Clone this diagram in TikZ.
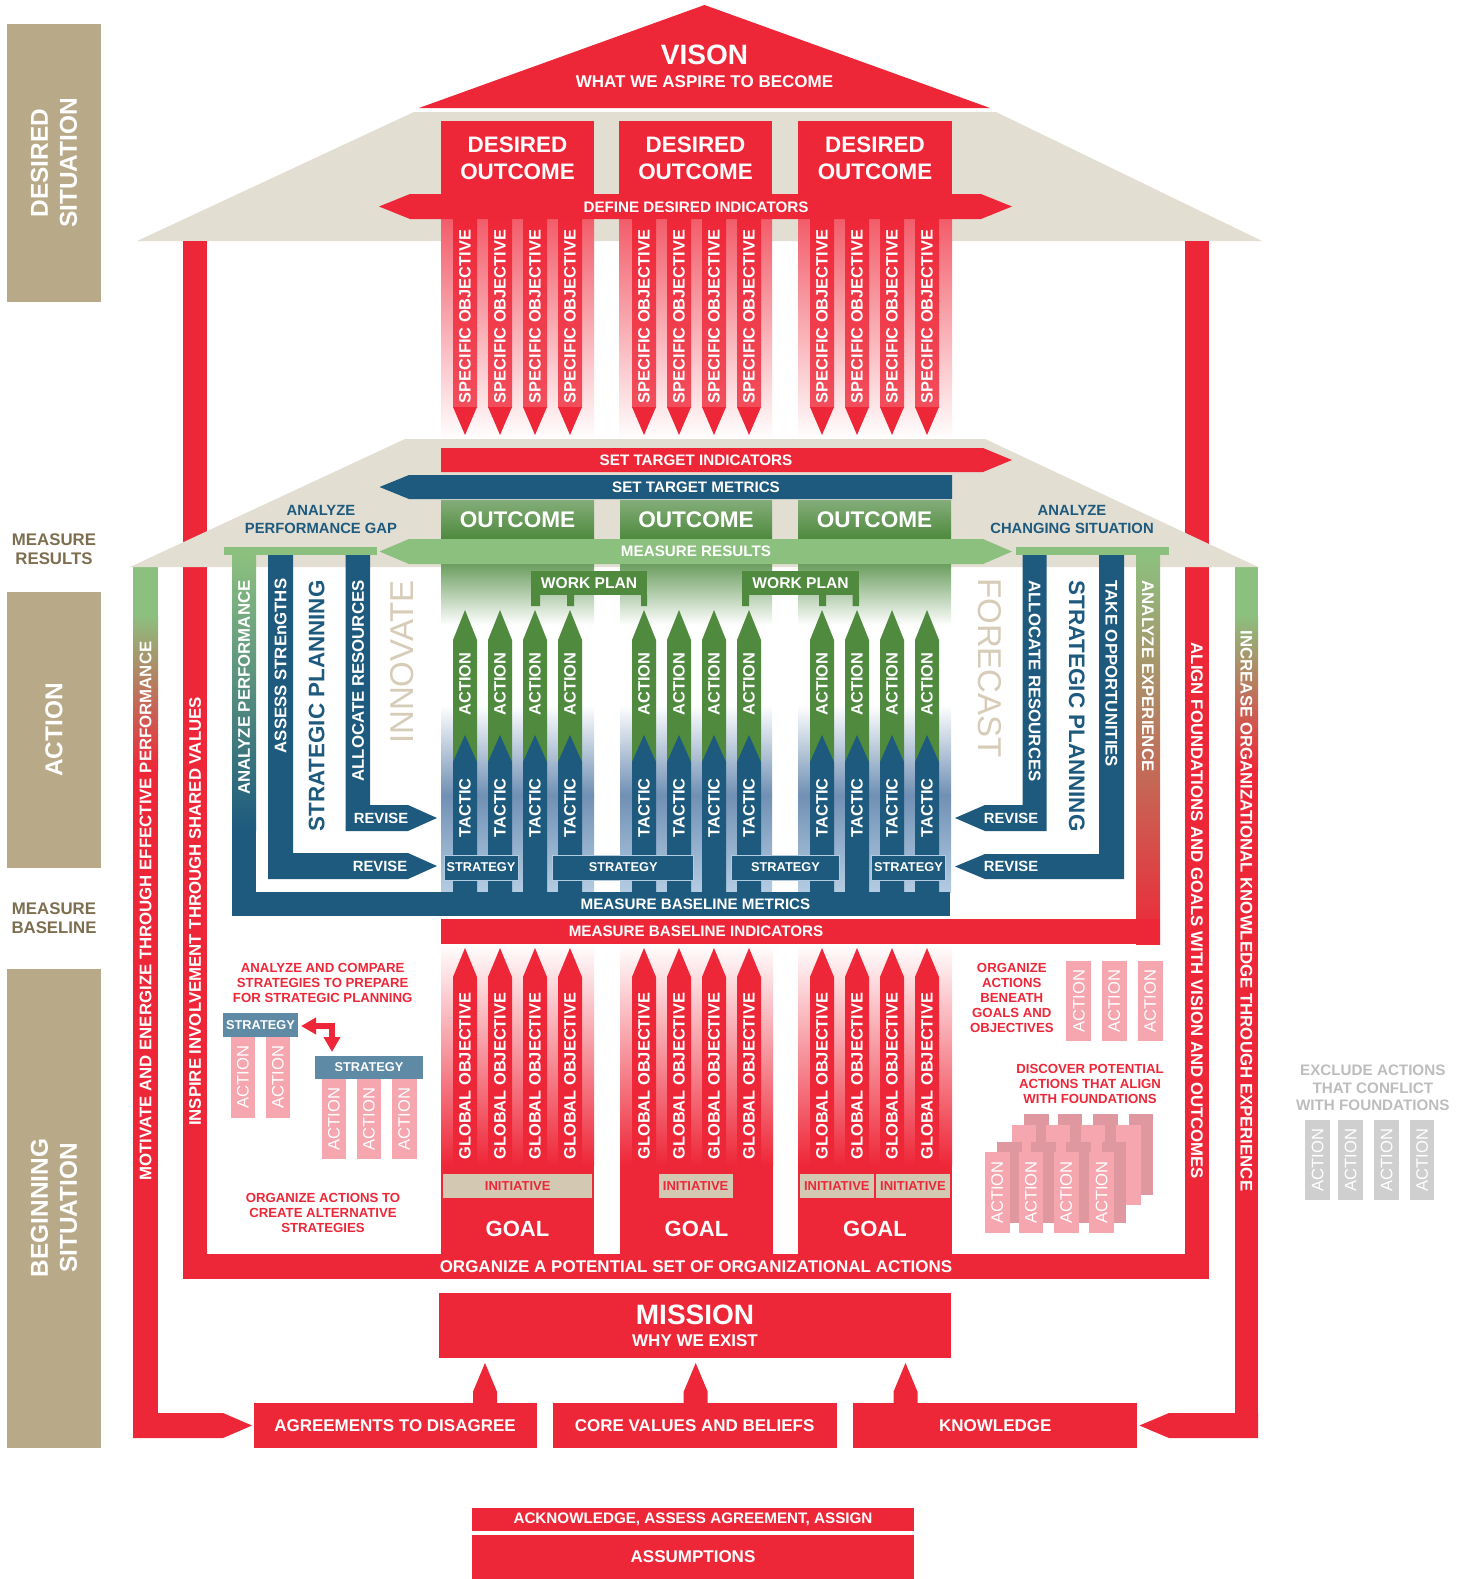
\documentclass[tikz,border=0pt]{standalone}
\usepackage{fontspec}
\setmainfont{Liberation Sans}
\usetikzlibrary{arrows.meta}

\definecolor{cred}{RGB}{238,39,56}
\definecolor{roof}{RGB}{227,222,210}
\definecolor{tan}{RGB}{184,169,137}
\definecolor{tantext}{RGB}{125,110,80}
\definecolor{dblue}{RGB}{29,90,126}
\definecolor{dgreen}{RGB}{79,138,63}
\definecolor{lgreen}{RGB}{140,192,127}
\definecolor{ghost}{RGB}{214,204,184}
\definecolor{steel}{RGB}{94,138,166}
\definecolor{pinkA}{RGB}{245,166,175}
\definecolor{pinkB}{RGB}{224,152,160}
\definecolor{greyA}{RGB}{207,207,207}
\definecolor{greyT}{RGB}{189,189,189}
\definecolor{initc}{RGB}{211,201,179}
\definecolor{panelg}{RGB}{107,158,95}
\definecolor{bluemid}{RGB}{112,144,180}
\definecolor{bluelt}{RGB}{180,204,226}
\definecolor{brownmid}{RGB}{178,135,105}

\newcommand\fsz[2]{\fontsize{#1}{#2}\selectfont}
% bar arrow pointing up: centre x, tip y, shoulder y, base y, fill options
\newcommand\arrowUp[5]{\fill[#5] ({#1-12},#4) -- ({#1-12},#3) -- (#1,#2) -- ({#1+12},#3) -- ({#1+12},#4) -- cycle;}

\begin{document}
\begin{tikzpicture}[x=0.5pt,y=-0.5pt,
  every node/.style={inner sep=0pt,outer sep=0pt},
  wt/.style={text=white,font=\bfseries\fsz{8.4pt}{10pt}},
  arrtxt/.style={text=white,font=\bfseries\fsz{8.2pt}{10pt}},
  bandtxt/.style={text=white,font=\bfseries\fsz{7.6pt}{9pt}},
  bigtxt/.style={text=white,font=\bfseries\fsz{11.2pt}{13.5pt},align=center},
  sidetxt/.style={text=white,font=\bfseries\fsz{12.2pt}{14.5pt},align=center},
  pinktxt/.style={text=white,font=\fsz{8.3pt}{10pt}},
  redtxt/.style={text=cred,font=\bfseries\fsz{6.6pt}{7.5pt},align=center},
  bluetxt/.style={text=dblue,font=\bfseries\fsz{7.4pt}{9pt},align=center},
  ghosttxt/.style={text=ghost,font=\fsz{16.5pt}{18pt}},
  tantxt/.style={text=tantext,font=\bfseries\fsz{8.4pt}{9.5pt},align=center},
  strattxt/.style={text=white,font=\bfseries\fsz{6.4pt}{8pt}},
  sbox/.style={fill=steel,text=white,font=\bfseries\fsz{6.4pt}{8pt}},
  redbox/.style={fill=cred,text=white,font=\bfseries\fsz{8.5pt}{10pt}},
]
\useasboundingbox (0,0) rectangle (1463,1579);
\fill[white] (0,0) rectangle (1463,1579);

% ---------- left legend ----------
\fill[tan] (7,24) rectangle (101,302);
\node[sidetxt,rotate=90] (sdes) at (54,163) {DESIRED\\SITUATION};
\fill[tan] (7,592) rectangle (101,868);
\node[sidetxt,rotate=90] (sact) at (54,730) {ACTION};
\fill[tan] (7,969) rectangle (101,1448);
\node[sidetxt,rotate=90] (sbeg) at (54,1208) {BEGINNING\\SITUATION};
\node[tantxt] (smr) at (54,549.5) {MEASURE\\RESULTS};
\node[tantxt] (smb) at (54,918) {MEASURE\\BASELINE};

% ---------- upper roof ----------
\fill[roof] (414,112) -- (996,112) -- (1262,241) -- (137,241) -- cycle;

% inner red frame
\fill[cred] (183,241) rectangle (207,1279);
\fill[cred] (1185,241) rectangle (1209,1279);
\fill[cred] (183,1254) rectangle (1209,1279);

% outer frame: green fading into red
\fill[lgreen] (133,567) rectangle (158,615);
\fill[top color=lgreen,bottom color=cred] (133,615) rectangle (158,770);
\fill[cred] (133,770) rectangle (158,1438);
\fill[cred] (133,1413) -- (223,1413) -- (252,1425.5) -- (223,1438) -- (133,1438) -- cycle;
\fill[lgreen] (1235,567) rectangle (1258,615);
\fill[top color=lgreen,bottom color=cred] (1235,615) rectangle (1258,770);
\fill[cred] (1235,770) rectangle (1258,1438);
\fill[cred] (1258,1413) -- (1169,1413) -- (1139.4,1425.5) -- (1169,1438) -- (1258,1438) -- cycle;

% vision
\fill[cred] (704.5,5) -- (990,108) -- (419,108) -- cycle;
\node[text=white,font=\bfseries\fsz{14pt}{16pt}] (vis) at (704.5,55) {VISON};
\node[text=white,font=\bfseries\fsz{8.5pt}{10pt}] (visub) at (704.5,82) {WHAT WE ASPIRE TO BECOME};

% desired outcomes and specific objectives
\foreach \a/\b [count=\k] in {441/594,619/772,798/952}{
  \fill[cred] (\a,121) rectangle (\b,194);
  \node[bigtxt] (do\k) at ({(\a+\b)/2},158.5) {DESIRED\\OUTCOME};
  \fill[top color=cred!75!white,bottom color=white] (\a,219) rectangle (\b,440);
}
\fill[cred] (379,206.5) -- (410,194) -- (981,194) -- (1012,206.5) -- (981,219) -- (410,219) -- cycle;
\node[bandtxt] (ddi) at (696,207) {DEFINE DESIRED INDICATORS};
\foreach \c [count=\k] in {465,500,535,570,644,679,714,749,822,857,892,927}{
  \fill[top color=cred,bottom color=cred!82!white] ({\c-12},219) rectangle ({\c+12},407);
  \fill[cred] ({\c-12},407) -- ({\c+12},407) -- (\c,435) -- cycle;
  \node[arrtxt,rotate=90] (spec\k) at (\c,316.5) {SPECIFIC OBJECTIVE};
}

% ---------- lower roof ----------
\fill[roof] (405,439) -- (985,439) -- (1258,567) -- (130,567) -- cycle;
\fill[cred] (441,448) -- (983,448) -- (1012,460) -- (983,472) -- (441,472) -- cycle;
\node[bandtxt] (sti) at (696,460) {SET TARGET INDICATORS};
\fill[dblue] (379.5,487) -- (409,475) -- (952,475) -- (952,499) -- (409,499) -- cycle;
\node[bandtxt] (stm) at (696,487) {SET TARGET METRICS};
\foreach \a/\b [count=\k] in {441/594,620/772,798/951}{
  \fill[top color=dgreen!70!white,middle color=dgreen,bottom color=dgreen] (\a,500) rectangle (\b,538);
  \node[text=white,font=\bfseries\fsz{11.3pt}{13pt}] (oc\k) at ({(\a+\b)/2},520) {OUTCOME};
}
\fill[lgreen] (379.5,551.5) -- (409,539) -- (983,539) -- (1012,551.5) -- (983,564) -- (409,564) -- cycle;
\node[bandtxt] (mres) at (696,551.5) {MEASURE RESULTS};
\node[bluetxt] (apg) at (321,519) {ANALYZE\\PERFORMANCE GAP};
\node[bluetxt] (acs) at (1072,519) {ANALYZE\\CHANGING SITUATION};
\fill[lgreen] (224,547) rectangle (377,555);
\fill[lgreen] (1016,547) rectangle (1169,555);

% ---------- action panels ----------
\foreach \a/\b in {441/594,620/772,798/951}{
  \fill[top color=panelg,bottom color=white] (\a,564) rectangle (\b,625);
  \fill[top color=white,bottom color=bluemid] (\a,705) rectangle (\b,795);
  \fill[top color=bluemid,bottom color=bluelt] (\a,795) rectangle (\b,892);
}
% work plans
\fill[dgreen] (531,571) rectangle (647,595);
\fill[dgreen] (531,595) rectangle (540,606) (567,595) rectangle (574,606) (641,595) rectangle (647,606);
\node[text=white,font=\bfseries\fsz{7.8pt}{9pt}] (wp1) at (589,583) {WORK PLAN};
\fill[dgreen] (742,571) rectangle (859,595);
\fill[dgreen] (742,595) rectangle (749,606) (819,595) rectangle (826,606) (852.7,595) rectangle (859,606);
\node[text=white,font=\bfseries\fsz{7.8pt}{9pt}] (wp2) at (800.5,583) {WORK PLAN};
% actions and tactics
\foreach \c [count=\k] in {465,500,535,570,644,679,714,749,822,857,892,927}{
  \arrowUp{\c}{610}{640}{762}{dgreen}
  \arrowUp{\c}{735}{762}{892}{dblue}
  \node[arrtxt,rotate=90] (act\k) at (\c,684) {ACTION};
  \node[arrtxt,rotate=90] (tac\k) at (\c,808) {TACTIC};
}
\foreach \a/\b [count=\k] in {444/518,552.6/693.8,731.6/839.4,871.8/945}{
  \fill[dblue] (\a,855) rectangle (\b,880);
  \draw[bluelt,line width=0.5pt] (\a,855) rectangle (\b,880);
  \node[strattxt] (str\k) at ({(\a+\b)/2},867.5) {STRATEGY};
}

% left feedback bars
\fill[top color=lgreen,bottom color=dblue] (232,555) rectangle (256,830);
\fill[dblue] (232,830) rectangle (256,916);
\fill[dblue] (232,892) rectangle (950,916);
\node[bandtxt] (mbm) at (695.5,904) {MEASURE BASELINE METRICS};
\fill[dblue] (268,555) -- (293,555) -- (293,853) -- (408,853) -- (437,866) -- (408,879) -- (268,879) -- cycle;
\fill[dblue] (345.7,555) -- (370,555) -- (370,805) -- (408,805) -- (437,818) -- (408,831) -- (345.7,831) -- cycle;
\node[wt,rotate=90] (lap) at (244,687.5) {ANALYZE PERFORMANCE};
\node[wt,rotate=90] (las) at (280.5,666) {ASSESS STREnGTHS};
\node[text=dblue,font=\bfseries\fsz{11.2pt}{13pt},rotate=90] (lsp) at (316.7,706) {STRATEGIC PLANNING};
\node[wt,rotate=90] (lar) at (358,681) {ALLOCATE RESOURCES};
\node[ghosttxt,rotate=90] (inn) at (401.7,662) {INNOVATE};
\node[text=white,font=\bfseries\fsz{7.4pt}{9pt}] (lrv1) at (381,818) {REVISE};
\node[text=white,font=\bfseries\fsz{7.4pt}{9pt}] (lrv2) at (380,866) {REVISE};

% right feedback bars
\fill[dblue] (1022.7,555) -- (1046.7,555) -- (1046.7,831) -- (985,831) -- (955,818) -- (985,805) -- (1022.7,805) -- cycle;
\fill[dblue] (1099,555) -- (1124,555) -- (1124,879) -- (985,879) -- (955,866.5) -- (985,854) -- (1099,854) -- cycle;
\fill[top color=lgreen,middle color=brownmid,bottom color=cred] (1136,555) rectangle (1160,944);
\fill[cred] (441,919) rectangle (1160,944);
\node[bandtxt] (mbi) at (696,931.5) {MEASURE BASELINE INDICATORS};
\node[ghosttxt,rotate=-90] (fct) at (990,668) {FORECAST};
\node[wt,rotate=-90] (rar) at (1034.7,681) {ALLOCATE RESOURCES};
\node[text=dblue,font=\bfseries\fsz{11.2pt}{13pt},rotate=-90] (rsp) at (1076.7,706) {STRATEGIC PLANNING};
\node[wt,rotate=-90] (rto) at (1111.5,674) {TAKE OPPORTUNITIES};
\node[wt,rotate=-90] (rae) at (1148,676) {ANALYZE EXPERIENCE};
\node[text=white,font=\bfseries\fsz{7.4pt}{9pt}] (rrv1) at (1011,818) {REVISE};
\node[text=white,font=\bfseries\fsz{7.4pt}{9pt}] (rrv2) at (1011,866.5) {REVISE};

% ---------- goals and global objectives ----------
\foreach \a/\b [count=\k] in {441/594,620/773,798/952}{
  \fill[top color=white,bottom color=cred] (\a,944) rectangle (\b,1165);
  \fill[cred] (\a,1165) rectangle (\b,1254);
  \node[text=white,font=\bfseries\fsz{11pt}{13pt}] (goal\k) at ({(\a+\b)/2},1229) {GOAL};
}
\foreach \c [count=\k] in {465,500,535,570,644,679,714,749,822,857,892,927}{
  \arrowUp{\c}{948}{977}{1174}{cred}
  \node[arrtxt,rotate=90] (glob\k) at (\c,1076) {GLOBAL OBJECTIVE};
}
\foreach \a/\b [count=\k] in {443.4/592,658.6/732.7,799.8/873.9,876.3/949.6}{
  \fill[initc] (\a,1174) rectangle (\b,1197.7);
  \node[text=cred,font=\bfseries\fsz{6.5pt}{8pt}] (ini\k) at ({(\a+\b)/2},1186) {INITIATIVE};
}
\node[text=white,font=\bfseries\fsz{8.5pt}{10pt}] (org) at (696,1267) {ORGANIZE A POTENTIAL SET OF ORGANIZATIONAL ACTIONS};

% frame texts
\node[wt,rotate=90] (mot) at (145.5,911) {MOTIVATE AND ENERGIZE THROUGH EFFECTIVE PERFORMANCE};
\node[wt,rotate=90] (ins) at (195,911.5) {INSPIRE INVOLVEMENT THROUGH SHARED VALUES};
\node[wt,rotate=-90] (ali) at (1197,911) {ALIGN FOUNDATIONS AND GOALS WITH VISION AND OUTCOMES};
\node[wt,rotate=-90] (inc) at (1246.5,911) {INCREASE ORGANIZATIONAL KNOWLEDGE THROUGH EXPERIENCE};

% ---------- lower left notes ----------
\node[redtxt] (acmp) at (322.7,983) {ANALYZE AND COMPARE\\STRATEGIES TO PREPARE\\FOR STRATEGIC PLANNING};
\node[sbox,minimum width=37.5pt,minimum height=12pt] (st1) at (260.5,1025) {STRATEGY};
\node[sbox,minimum width=54pt,minimum height=11.7pt] (st2) at (369,1067.4) {STRATEGY};
\foreach \x [count=\k] in {230.7,265.7}{
  \fill[pinkA] (\x,1037) rectangle ({\x+24.3},1117.7);
  \node[pinktxt,rotate=90] (pa\k) at ({\x+12.15},1077) {ACTION};
}
\foreach \x [count=\k] in {321.7,356.7,392}{
  \fill[pinkA] (\x,1079.2) rectangle ({\x+24.5},1159.3);
  \node[pinktxt,rotate=90] (pb\k) at ({\x+12.25},1119) {ACTION};
}
\coordinate (elbA) at (301,1026);
\coordinate (elbB) at (332,1052);
\draw[cred,line width=3pt,{Triangle[length=7.5pt,width=8pt]}-{Triangle[length=7.5pt,width=8pt]}] (elbA) -| (elbB);
\node[redtxt] (orgalt) at (323,1213) {ORGANIZE ACTIONS TO\\CREATE ALTERNATIVE\\STRATEGIES};

% ---------- lower right notes ----------
\node[redtxt] (orgb) at (1011.8,998.3) {ORGANIZE\\ACTIONS\\BENEATH\\GOALS AND\\OBJECTIVES};
\foreach \x [count=\k] in {1066.4,1101.7,1137.7}{
  \fill[pinkA] (\x,961) rectangle ({\x+24.8},1041);
  \node[pinktxt,rotate=90] (pc\k) at ({\x+12.4},1001) {ACTION};
}
\node[redtxt] (disc) at (1090,1083.7) {DISCOVER POTENTIAL\\ACTIONS THAT ALIGN\\WITH FOUNDATIONS};
\foreach \x in {1024.3,1058,1093.3,1128.6}{\fill[pinkB] (\x,1114) rectangle ({\x+24.3},1195);}
\foreach \x in {1011.8,1045.5,1080.8,1116.2}{\fill[pinkA] (\x,1125) rectangle ({\x+24.5},1205);}
\foreach \x in {997.3,1031,1066.4,1101.7}{\fill[pinkB] (\x,1141.7) rectangle ({\x+24.5},1222.7);}
\foreach \x [count=\k] in {984.9,1018.6,1053.9,1089.3}{
  \fill[pinkA] (\x,1152.3) rectangle ({\x+24.7},1232.7);
  \node[pinktxt,rotate=90] (pd\k) at ({\x+12.35},1192.5) {ACTION};
}
\node[text=greyT,font=\bfseries\fsz{7.6pt}{8.9pt},align=center] (excl) at (1372.8,1087.8) {EXCLUDE ACTIONS\\THAT CONFLICT\\WITH FOUNDATIONS};
\foreach \x [count=\k] in {1305.4,1338.4,1374.4,1409.8}{
  \fill[greyA] (\x,1120) rectangle ({\x+24.6},1200);
  \node[pinktxt,rotate=90] (pg\k) at ({\x+12.3},1160) {ACTION};
}

% ---------- foundations ----------
\node[fill=cred,minimum width=256pt,minimum height=32.5pt] (mission) at (695,1325.5) {};
\node[text=white,font=\bfseries\fsz{14pt}{16pt}] (mis) at (695,1315) {MISSION};
\node[text=white,font=\bfseries\fsz{8.5pt}{10pt}] (why) at (695,1341) {WHY WE EXIST};
\node[redbox,minimum width=141.5pt,minimum height=22.8pt] (agree) at (395,1425.5) {AGREEMENTS TO DISAGREE};
\node[redbox,minimum width=141.9pt,minimum height=22.8pt] (core) at (694.6,1425.5) {CORE VALUES AND BELIEFS};
\node[redbox,minimum width=141.9pt,minimum height=22.8pt] (know) at (995.3,1425.5) {KNOWLEDGE};
\foreach \c in {485,695.7,905.5}{\arrowUp{\c}{1363}{1391.7}{1403}{cred}}
\node[fill=cred,text=white,font=\bfseries\fsz{7.6pt}{9pt},minimum width=221.2pt,minimum height=11.35pt] (ack) at (693,1519.7) {ACKNOWLEDGE, ASSESS AGREEMENT, ASSIGN};
\node[redbox,minimum width=221.2pt,minimum height=22pt] (assu) at (693,1557) {ASSUMPTIONS};
\end{tikzpicture}
\end{document}
